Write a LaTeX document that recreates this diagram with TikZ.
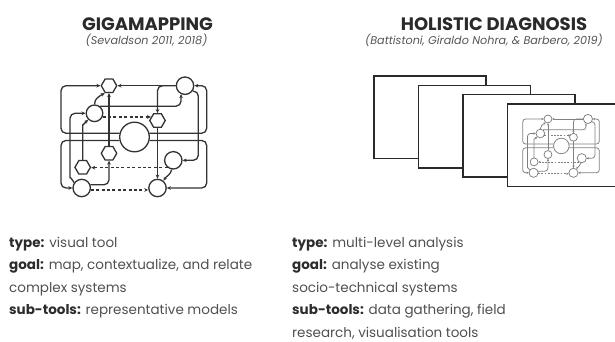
\documentclass[tikz,border=0pt]{standalone}
\usepackage{fontspec}
\setmainfont{Poppins}
\usetikzlibrary{shapes.geometric,arrows.meta,calc}
\definecolor{titleink}{HTML}{2A2A2A}
\definecolor{bodyink}{HTML}{505050}
\definecolor{labelink}{HTML}{2C2C2C}
\definecolor{subink}{HTML}{555555}
\definecolor{frameink}{HTML}{2A2A2A}
\colorlet{gink}{black!80}
\newcommand\gmapw{1.3pt}
\newcommand\gmaprc{5pt}
\newcommand\gmapal{4pt}
\newcommand\gmapaw{3.6pt}
\newcommand\mylbl[1]{{\bfseries\color{labelink}#1}}
\tikzset{
  gline/.style={draw=gink, line width=\gmapw, rounded corners=\gmaprc},
  garr/.style={-{Stealth[length=\gmapal,width=\gmapaw]}},
  gdash/.style={dash pattern=on 3pt off 2.4pt},
  gcirc/.style={circle, draw=gink, line width=\gmapw, fill=white, inner sep=0pt},
  ghex/.style={regular polygon, regular polygon sides=6, draw=gink, line width=\gmapw, fill=white, inner sep=0pt, minimum size=15.5pt},
  frm/.style={draw=frameink, line width=1.4pt, fill=white},
  ttl/.style={anchor=base, inner sep=0pt, font=\fontsize{18}{20}\selectfont\bfseries, text=titleink},
  sttl/.style={anchor=base, inner sep=0pt, font=\fontsize{11.2}{13}\selectfont\itshape, text=subink},
  body/.style={anchor=base west, inner sep=0pt, font=\fontsize{13.5}{16}\selectfont, text=bodyink},
}
\newcommand\drawgmap{%
  \node[ghex] (H1) at (109,85.7) {};
  \node[gcirc,minimum size=17.4pt] (C1) at (185,85.7) {};
  \node[gcirc,minimum size=16.6pt] (C2) at (94.5,113.3) {};
  \node[ghex] (H2) at (157.5,120.5) {};
  \node[gcirc,minimum size=29.6pt] (C0) at (134.5,137) {};
  \node[ghex] (H3) at (109,153.3) {};
  \node[gcirc,minimum size=17.4pt] (C3) at (173.3,160.3) {};
  \node[ghex] (H4) at (82.7,167.3) {};
  \node[gcirc,minimum size=17.4pt] (C4) at (81.7,188) {};
  \node[gcirc,minimum size=17.4pt] (C5) at (157.5,188) {};
  \coordinate (LL) at (61,0);
  \coordinate (RR) at (206.7,0);
  \coordinate (RV) at (198.3,0);
  \coordinate (LV) at (70,0);
  \draw[gline,garr] (C0.166) -- (C0.166 -| LL) |- (H1.west);
  \draw[gline,garr] (C0.14) -- (C0.14 -| RR) |- (C1.east);
  \draw[gline,garr] (C0.193) -- (C0.193 -| LL) |- (C4.west);
  \draw[gline,garr] (C0.-13) -- (C0.-13 -| RR) |- (C5.east);
  \draw[gline,garr] (C1.west) -- (H1.east);
  \draw[gline,garr] (C1.west) -| (H2.north);
  \draw[gline,garr] (C2.53) -| (C1.-115);
  \draw[gline,garr] (C2.north) to[out=90,in=210] (H1.-120);
  \draw[gline,gdash,garr] (C2.-24) -- ($(C2.-24 -| H2.west)+(2,0)$);
  \draw[gline,garr] (H3.north) -- (H1.south);
  \draw[gline,garr] (H2.south) -- (C5.north);
  \draw[gline,garr] (C1.-35) -- (C1.-35 -| RV) |- (C3.east);
  \draw[gline,gdash,garr] (C3.-128) -- (C3.-128 -| H4.east);
  \draw[gline,garr] (C3.-100) to[out=-100,in=60] (C5.50);
  \draw[gline,gdash,garr] (C4.-12) -- (C4.-12 -| C5.west);
  \draw[gline,garr] (C4.20) -| (H3.south);
  \draw[gline,garr] (H4.north) -- ++(0,-30) to[out=90,in=-135] (C2.-135);
  \draw[gline,garr] (C4.145) to[out=120,in=-90] ($(C4.145 -| LV)+(0,-10)$) |- (C2.west);
}
\begin{document}
\begin{tikzpicture}[x=1pt,y=-1pt]
\useasboundingbox (0,0) rectangle (615,342);
% titles
\node[ttl] (t1) at (147.5,30.7) {GIGAMAPPING};
\node[sttl] (s1) at (146.5,45) {(Sevaldson 2011, 2018)};
\node[ttl] (t2) at (494,30.7) {HOLISTIC DIAGNOSIS};
\node[sttl] (s2) at (484,45) {(Battistoni, Giraldo Nohra, \& Barbero, 2019)};
% gigamap
\drawgmap
% frames
\draw[frm] (374,76) rectangle ++(112,82.5);
\draw[frm] (418.5,85.3) rectangle ++(112,82.5);
\draw[frm] (463,94.6) rectangle ++(112,82.5);
\draw[frm] (507.5,103.9) rectangle ++(112,82.5);
\begin{scope}[shift={(490.6,73.9)}, scale=0.526, transform shape,
  name prefix=m-,
  ghex/.style={gcirc, minimum size=15pt},
  gdash/.style={dash pattern=on 1.8pt off 1.4pt}]
  \renewcommand\gmapw{0.75pt}
  \renewcommand\gmaprc{3pt}
  \renewcommand\gmapal{2.4pt}
  \renewcommand\gmapaw{2.2pt}
  \colorlet{gink}{black!50}
  \drawgmap
\end{scope}
% body text
\node[body] (l1) at (9,247) {\mylbl{type:} visual tool};
\node[body] (l2) at (9,269.5) {\mylbl{goal:} map, contextualize, and relate};
\node[body] (l3) at (9,292) {complex systems};
\node[body] (l4) at (9,314.5) {\mylbl{sub-tools:} representative models};
\node[body] (r1) at (292,247) {\mylbl{type:} multi-level analysis};
\node[body] (r2) at (292,269.5) {\mylbl{goal:} analyse existing};
\node[body] (r3) at (292,292) {socio-technical systems};
\node[body] (r4) at (292,314.5) {\mylbl{sub-tools:} data gathering, field};
\node[body] (r5) at (292,337.5) {research, visualisation tools};
\end{tikzpicture}
\end{document}
